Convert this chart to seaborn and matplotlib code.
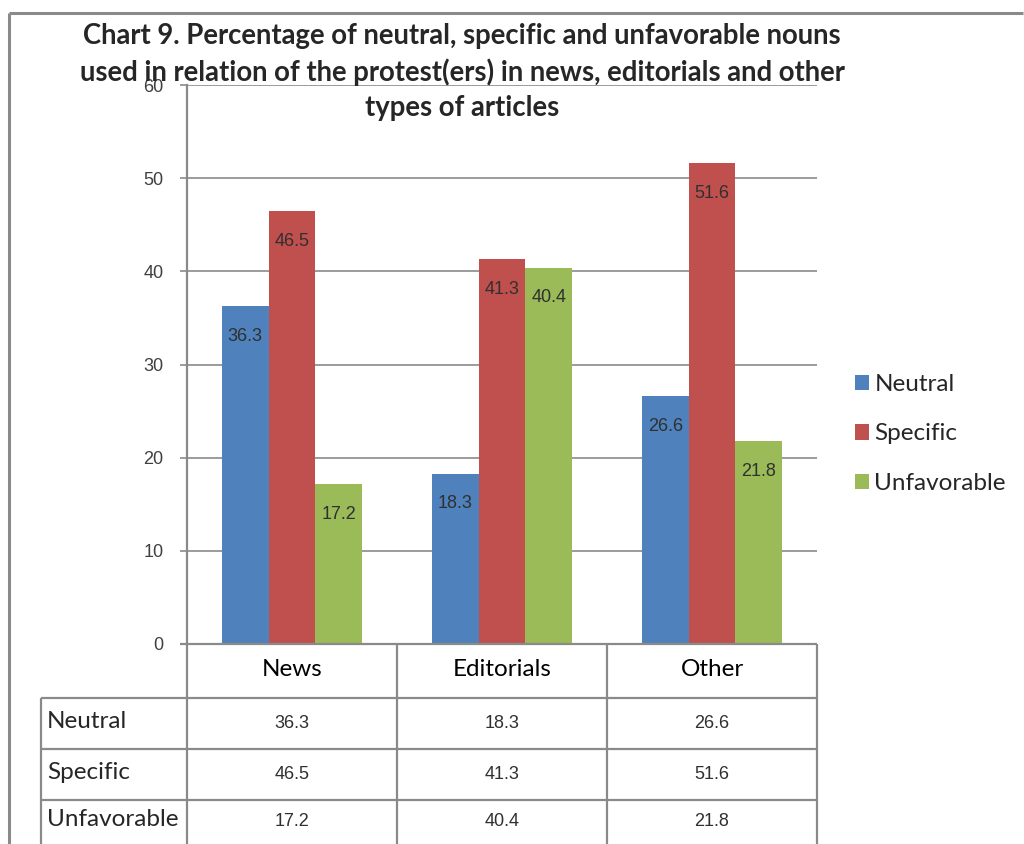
import matplotlib.pyplot as plt
import matplotlib.lines as mlines
import pandas as pd
import seaborn as sns

# data
article_types = ["News", "Editorials", "Other"]
series_names = ["Neutral", "Specific", "Unfavorable"]
neutral = [36.3, 18.3, 26.6]
specific = [46.5, 41.3, 51.6]
unfavorable = [17.2, 40.4, 21.8]
y_ticks = [0, 10, 20, 30, 40, 50, 60]

colors = ["#4F81BD", "#C0504D", "#9BBB59"]
grid_gray = "#8a8a8a"
W, H = 1024, 844

df = pd.DataFrame({
    "type": article_types * 3,
    "series": [s for s in series_names for _ in article_types],
    "pct": neutral + specific + unfavorable,
})

sns.set_theme(style="white")
plt.rcParams["font.family"] = ["Lato", "DejaVu Sans"]

fig = plt.figure(figsize=(W / 100, H / 100), dpi=100)


def fx(x):
    return x / W


def fy(y):
    return 1 - y / H


def fline(x0, y0, x1, y1, lw=1.6, color=grid_gray):
    fig.add_artist(mlines.Line2D([fx(x0), fx(x1)], [fy(y0), fy(y1)],
                                 color=color, lw=lw, transform=fig.transFigure,
                                 solid_capstyle="butt"))


ax = fig.add_axes([fx(187), fy(644), fx(817) - fx(187), fy(85) - fy(644)])

sns.barplot(data=df, x="type", y="pct", hue="series", palette=colors,
            width=0.667, saturation=1, ax=ax, edgecolor="none", legend=True)

ax.set_ylim(0, 60)
ax.set_yticks(y_ticks)
ax.set_xlim(-0.5, 2.5)
ax.yaxis.grid(True, color=grid_gray, lw=1.2)
ax.set_axisbelow(True)
for side in ["top", "right", "bottom"]:
    ax.spines[side].set_visible(False)
ax.spines["left"].set_color(grid_gray)
ax.spines["left"].set_linewidth(1.6)
ax.tick_params(axis="y", left=True, length=5, width=1.2, color=grid_gray,
               pad=12, labelsize=13, labelcolor="#404040")
for lab in ax.get_yticklabels():
    lab.set_family(["Liberation Sans"])
ax.tick_params(axis="x", length=0, pad=11, labelsize=17.5, labelcolor="black")
ax.set_xlabel("")
ax.set_ylabel("")

for cont in ax.containers:
    ax.bar_label(cont, fmt="%.1f", label_type="edge", padding=-28,
                 fontsize=13, color="#303030", family=["Liberation Sans"])

# legend to the right
handles, labels = ax.get_legend_handles_labels()
ax.get_legend().remove()
fig.legend(handles, labels, loc="center left", bbox_to_anchor=(fx(833), fy(434)),
           frameon=False, fontsize=17.5, handlelength=0.6, handleheight=0.6,
           handletextpad=0.2, labelspacing=1.18)

# title
fig.text(fx(462), fy(72), "Chart 9. Percentage of neutral, specific and unfavorable nouns\n"
         "used in relation of the protest(ers) in news, editorials and other\n"
         "types of articles", ha="center", va="center", fontsize=19.8,
         fontweight="bold", linespacing=1.42)

# outer chart border
fline(9, 13, 1023, 13, lw=2.2)
fline(9, 13, 9, 844, lw=2.2)

# data table under the plot
col_edges = [187, 397, 607, 817]
row_edges = [644, 698, 749, 800, 844]
fline(180, 644, 817, 644)
for x in col_edges:
    fline(x, 644, x, 844)
fline(41, 698, 41, 844)
for y in row_edges[1:4]:
    fline(41, y, 817, y)

rows = [neutral, specific, unfavorable]
for r, (name, vals) in enumerate(zip(series_names, rows)):
    yc = (row_edges[r + 1] + row_edges[r + 2]) / 2
    fig.text(fx(47), fy(yc - 2), name, ha="left", va="center", fontsize=17.5)
    for c, v in enumerate(vals):
        xc = (col_edges[c] + col_edges[c + 1]) / 2
        fig.text(fx(xc), fy(yc), f"{v:.1f}", ha="center", va="center",
                 fontsize=13, color="#303030", family=["Liberation Sans"])

fig.savefig("out.png", dpi=100)
